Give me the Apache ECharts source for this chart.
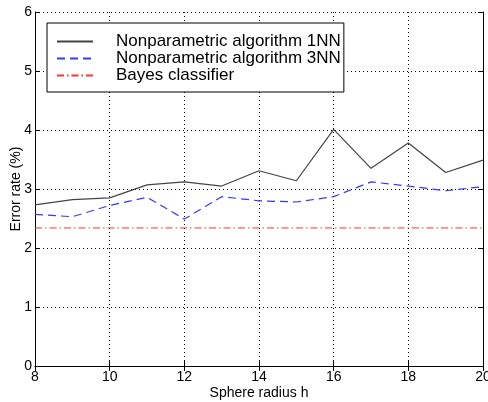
<!DOCTYPE html>
<html>
<head>
<meta charset="utf-8">
<script src="https://cdn.jsdelivr.net/npm/echarts@6/dist/echarts.min.js"></script>
<style>
  html, body { margin: 0; padding: 0; background: #fff; }
  #chart { width: 488px; height: 402px; }
</style>
</head>
<body>
<div id="chart"></div>
<script>
// Sphere radius values on the horizontal axis
const radius = [8, 9, 10, 11, 12, 13, 14, 15, 16, 17, 18, 19, 20];
// Error rates (%) for each method
const err1NN = [2.73, 2.82, 2.85, 3.07, 3.12, 3.05, 3.31, 3.14, 4.01, 3.35, 3.78, 3.28, 3.49];
const err3NN = [2.57, 2.53, 2.72, 2.86, 2.49, 2.87, 2.80, 2.78, 2.87, 3.12, 3.05, 2.97, 3.04];
const errBayes = [2.34, 2.34, 2.34, 2.34, 2.34, 2.34, 2.34, 2.34, 2.34, 2.34, 2.34, 2.34, 2.34];
const seriesNames = ['Nonparametric algorithm 1NN', 'Nonparametric algorithm 3NN', 'Bayes classifier'];

const pairs = (ys) => radius.map((x, i) => [x, ys[i]]);

const font = 'Liberation Sans, Arial, Helvetica, sans-serif';
const gridDots = { color: '#000', width: 1, type: [1, 3] };

const chart = echarts.init(document.getElementById('chart'), null, { renderer: 'canvas' });

const baseX = {
  type: 'value', min: 8, max: 20, interval: 2,
  axisLine: { show: true, lineStyle: { color: '#000', width: 1 } },
  axisTick: { show: true, inside: true, length: 5, lineStyle: { color: '#000' } },
  splitLine: { show: false }
};
const baseY = {
  type: 'value', min: 0, max: 6, interval: 1,
  axisLine: { show: true, lineStyle: { color: '#000', width: 1 } },
  axisTick: { show: true, inside: true, length: 5, lineStyle: { color: '#000' } },
  splitLine: { show: false }
};

chart.setOption({
  animation: false,
  backgroundColor: '#fff',
  grid: {
    left: 35, right: 5, top: 12, bottom: 36,
    containLabel: false, outerBoundsMode: 'none', show: false
  },
  legend: {
    orient: 'vertical',
    left: 47, top: 23,
    data: seriesNames,
    itemWidth: 36, itemHeight: 14, itemGap: 0,
    padding: [10, 3, 8, 9],
    borderColor: '#000', borderWidth: 1,
    backgroundColor: '#fff',
    itemStyle: { opacity: 0 },
    textStyle: { fontFamily: font, fontSize: 17, lineHeight: 16, color: '#000', padding: [0, 0, 0, 18] }
  },
  xAxis: [
    Object.assign({}, baseX, {
      position: 'bottom',
      name: 'Sphere radius h', nameLocation: 'middle', nameGap: 20, nameMoveOverlap: false,
      nameTextStyle: { fontFamily: font, fontSize: 14, color: '#000' },
      axisLabel: { fontFamily: font, fontSize: 14, color: '#000', margin: 4 },
      splitLine: { show: true, lineStyle: gridDots }
    }),
    Object.assign({}, baseX, { position: 'top', axisLabel: { show: false } })
  ],
  yAxis: [
    Object.assign({}, baseY, {
      position: 'left',
      name: 'Error rate (%)', nameLocation: 'middle', nameGap: 12, nameMoveOverlap: false,
      nameTextStyle: { fontFamily: font, fontSize: 14, color: '#000' },
      axisLabel: { fontFamily: font, fontSize: 14, color: '#000', margin: 3 },
      splitLine: { show: true, lineStyle: gridDots }
    }),
    Object.assign({}, baseY, { position: 'right', axisLabel: { show: false } })
  ],
  series: [
    {
      name: seriesNames[0], type: 'line', data: pairs(err1NN),
      symbol: 'none', color: '#444',
      lineStyle: { color: '#444', width: 1.2, type: 'solid' }, z: 3
    },
    {
      name: seriesNames[1], type: 'line', data: pairs(err3NN),
      symbol: 'none', color: '#3838ff',
      lineStyle: { color: '#3838ff', width: 1.2, type: [8, 5] }, z: 3
    },
    {
      name: seriesNames[2], type: 'line', data: pairs(errBayes),
      symbol: 'none', color: '#ff3333',
      lineStyle: { color: '#ff3333', width: 1, type: [7, 3, 1.5, 3] }, z: 3
    }
  ]
});
</script>
</body>
</html>
